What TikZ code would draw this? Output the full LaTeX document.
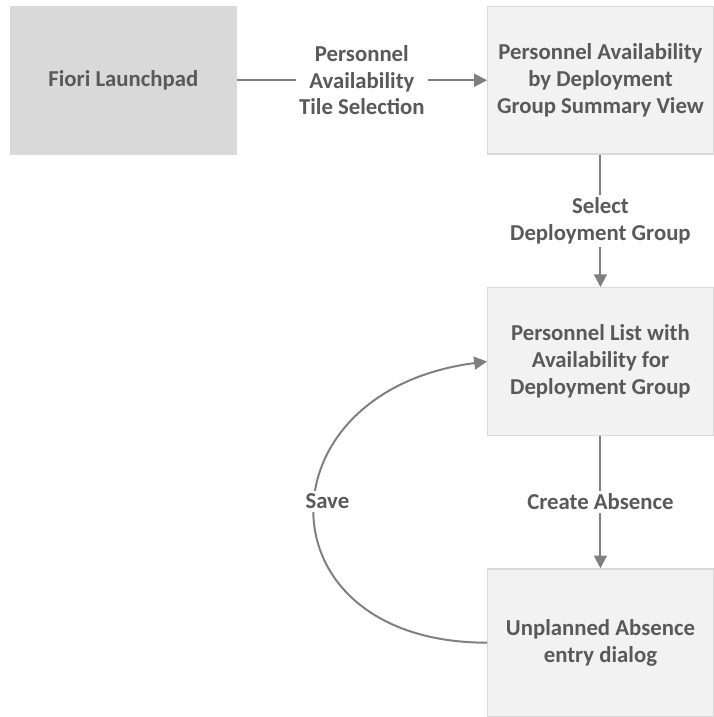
\documentclass[tikz,border=0pt]{standalone}
\usepackage{fontspec}
\setmainfont{Carlito}
\usetikzlibrary{positioning, arrows.meta}
\definecolor{boxgray}{HTML}{F2F2F2}
\definecolor{padgray}{HTML}{D9D9D9}
\definecolor{edgegray}{HTML}{D9D9D9}
\definecolor{linegray}{HTML}{7F7F7F}
\definecolor{textgray}{HTML}{595959}

\begin{document}
\begin{tikzpicture}[>={Triangle[length=13pt, width=13pt]}, line width=2pt,
    every node/.style={align=center, text=textgray, font=\fontsize{23}{27}\selectfont\bfseries},
    screen/.style={draw=edgegray, line width=1.2pt, fill=boxgray, minimum width=228pt, minimum height=149pt},
    flow/.style={->, draw=linegray},
    lbl/.style={fill=white, inner sep=3pt}]
    % Screens
    \node (launchpad) [screen, fill=padgray] {Fiori Launchpad};
    \node (summary) [screen, right=253pt of launchpad] {Personnel Availability \\ by Deployment \\ Group Summary View};
    \node (list) [screen, below=134pt of summary] {Personnel List with \\ Availability for \\ Deployment Group};
    \node (dialog) [screen, below=134pt of list] {Unplanned Absence \\ entry dialog};

    % Page size
    \useasboundingbox ([xshift=-10pt, yshift=6pt]launchpad.north west) rectangle ([xshift=-7pt, yshift=4pt]dialog.south east);

    % Navigation
    \draw[flow] (launchpad) -- node[lbl] {Personnel \\ Availability \\ Tile Selection} (summary);
    \draw[flow] (summary) -- node[lbl] {Select \\ Deployment Group} (list);
    \draw[flow] (list) -- node[lbl] {Create Absence} (dialog);
    \draw[flow] (dialog.west) .. controls +(-232pt,0pt) and +(-232pt,-30pt) .. node[lbl, pos=0.53, xshift=12pt] {Save} (list.west);
\end{tikzpicture}
\end{document}
